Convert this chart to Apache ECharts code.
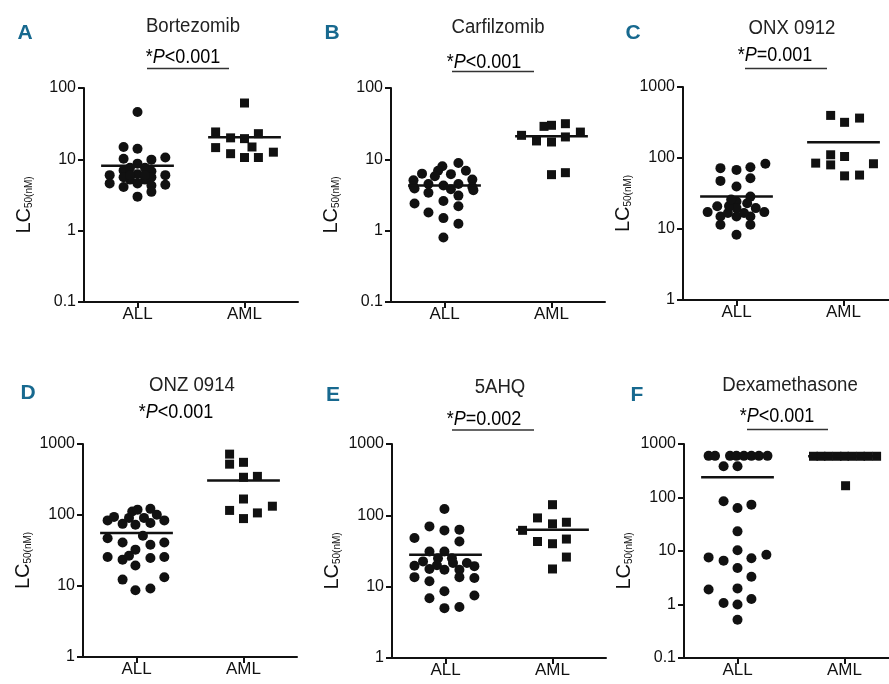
<!DOCTYPE html>
<html><head><meta charset="utf-8">
<script src="https://cdn.jsdelivr.net/npm/echarts@6/dist/echarts.min.js"></script>
<style>html,body{margin:0;padding:0;background:#fff}#c{width:889px;height:684px}</style>
</head><body><div id="c"></div>
<script>
// ---------------- DATA ----------------
const categories = ['ALL', 'AML'];
const panelLetters = ['A', 'B', 'C', 'D', 'E', 'F'];
const drugNames = ['Bortezomib', 'Carfilzomib', 'ONX 0912', 'ONZ 0914', '5AHQ', 'Dexamethasone'];
const pSigns = ['<', '<', '=', '<', '=', '<'];
const pNumbers = ['0.001', '0.001', '0.001', '0.001', '0.002', '0.001'];
const yMins = [0.1, 0.1, 1, 1, 1, 0.1];
const yMaxs = [100, 100, 1000, 1000, 1000, 1000];

// points: [swarm offset from group centre (axis units), LC50 value]
const bortezomibALL = [[0,46],[-0.13,14.9],[0,14.1],[-0.13,10.2],[0.13,9.9],[0.26,10.6],[0,8.7],[-0.13,7.0],[0.13,6.8],[-0.07,7.6],[0.07,7.6],[-0.26,6.0],[0.26,6.0],[-0.13,5.6],[0,6.2],[0.13,5.6],[-0.07,5.2],[0.07,5.2],[0,4.6],[-0.26,4.6],[0.26,4.4],[-0.13,4.1],[0.13,4.3],[0,3.0],[0.13,3.5],[-0.07,6.0],[0.07,6.0]];
const bortezomibAML = [[0,61.6],[-0.27,24.2],[0.13,22.9],[-0.13,20],[0,19.5],[-0.27,14.6],[0.07,14.9],[-0.13,12.0],[0.27,12.6],[0,10.6],[0.13,10.6]];
const carfilzomibALL = [[0.13,8.9],[-0.02,8.0],[-0.06,6.9],[-0.09,5.8],[-0.21,6.3],[0.06,6.2],[0.2,6.9],[-0.29,5.1],[0.26,5.2],[-0.29,4.2],[-0.15,4.5],[-0.01,4.3],[0.13,4.5],[0.26,4.1],[-0.15,3.4],[0.06,3.8],[0.13,3.1],[-0.28,3.9],[0.27,3.7],[-0.28,2.4],[-0.15,1.8],[-0.01,2.6],[0.13,2.2],[-0.01,1.5],[0.13,1.25],[-0.01,0.80]];
const carfilzomibAML = [[-0.28,21.7],[-0.14,18.1],[-0.07,29],[0,30],[0,17.5],[0.13,31.6],[0.13,20.6],[0.27,24.1],[0,6.1],[0.13,6.5]];
const onx0912ALL = [[-0.15,72],[0,68],[0.13,74],[0.27,83],[-0.15,47.6],[0,39.7],[0.13,52],[0,24.4],[0.13,28.6],[-0.27,17.3],[-0.18,20.9],[-0.15,15],[-0.15,11.5],[0,15],[0.13,15],[0.13,11.5],[0.26,17.3],[0,8.3],[-0.08,16.8],[0.07,16.8],[0,19.7],[0.18,19.7],[0.1,23],[-0.07,21],[-0.05,26]];
const onx0912AML = [[-0.12,398],[0.01,318],[0.15,365],[-0.26,84.7],[-0.12,111],[-0.12,80],[0.01,105],[0.28,83],[0.01,56],[0.15,57.5]];
const onz0914ALL = [[-0.27,84],[-0.21,94],[-0.13,75],[-0.07,91],[-0.04,112],[0.01,119],[0.07,91],[0.13,122],[0.19,101],[0.26,84],[-0.01,73],[0.13,77],[-0.27,47],[-0.13,41],[0.06,51],[0.13,38],[0.26,41],[-0.01,32.5],[-0.27,25.6],[-0.13,23.5],[-0.07,26.7],[0.13,24.8],[0.26,25.6],[-0.01,19.4],[-0.13,12.3],[0.26,13.3],[-0.01,8.7],[0.13,9.2]];
const onz0914AML = [[-0.13,720],[-0.13,520],[0,552],[0,340],[0.13,350],[0,168],[-0.13,116],[0,89],[0.13,107],[0.27,133]];
const ahq5ALL = [[-0.01,123],[-0.15,70],[-0.01,61.5],[0.13,63],[-0.29,48],[0.13,43],[-0.15,31.2],[-0.01,31.2],[-0.21,22.6],[-0.29,19.7],[-0.15,17.7],[-0.01,17.3],[0.07,21.5],[0.2,21.5],[0.27,19.4],[0.13,17.3],[0.27,13.2],[-0.29,13.6],[-0.15,11.9],[-0.01,8.6],[-0.15,6.9],[0.27,7.5],[-0.01,5.0],[0.13,5.2],[-0.07,25],[0.06,25],[-0.08,20],[0.13,13.6]];
const ahq5AML = [[0,141],[-0.14,92],[0,76],[0.13,80],[-0.28,61.6],[-0.14,43],[0,40],[0.13,46.5],[0.13,26],[0,17.7]];
const dexaALL = [[-0.27,600],[-0.21,600],[-0.07,600],[-0.01,600],[0.06,600],[0.13,600],[0.2,600],[0.28,600],[-0.13,383],[0,383],[-0.13,84.8],[0,63.7],[0.13,73.5],[0,23.3],[0,10.3],[-0.27,7.6],[-0.13,6.6],[0.13,7.3],[0.27,8.5],[0,4.8],[0.13,3.3],[-0.27,1.9],[0,2.0],[-0.13,1.07],[0,1.0],[0.13,1.27],[0,0.52]];
const dexaAML = [[-0.29,590],[-0.22,590],[-0.15,590],[-0.07,590],[0,590],[0.07,590],[0.15,590],[0.22,590],[0.3,590],[0.01,166]];
// summary (median/mean) line per group
const lineALL = [8.1, 4.3, 28.6, 55.8, 28.1, 238];
const lineAML = [20.4, 21, 167, 305, 63, 590];

const allGroups = [bortezomibALL, carfilzomibALL, onx0912ALL, onz0914ALL, ahq5ALL, dexaALL];
const amlGroups = [bortezomibAML, carfilzomibAML, onx0912AML, onz0914AML, ahq5AML, dexaAML];

// ---------------- LAYOUT ----------------
const grids = [
  {left: 84, top: 88, width: 214, height: 214},
  {left: 391, top: 88, width: 214, height: 214},
  {left: 683, top: 87, width: 214, height: 213},
  {left: 83, top: 444, width: 214, height: 213},
  {left: 392, top: 444, width: 214, height: 214},
  {left: 684, top: 444, width: 214, height: 214}
];
const letterPos = [[25,33],[332,33],[633,33],[28,393],[333,395],[637,395]];
const titlePos = [[193,26],[498,27],[792,28],[192,385],[500,387],[790,385]];
const pPos = [[183,57],[484,62],[775,55],[176,412],[484,419],[777,416]];
const ulPos = [[147,229,68.5],[452,534,71.5],[745,827,68.5],null,[452,534,430],[747,828,429.5]];

const FONT = '"Liberation Sans", Arial, sans-serif';
const INK = '#111';
const HALF = 0.34;

const option = {
  backgroundColor: '#fff',
  animation: false,
  grid: [], xAxis: [], yAxis: [], series: [], graphic: []
};

grids.forEach((g, i) => {
  option.grid.push(Object.assign({containLabel: false, outerBoundsMode: 'none'}, g));
  option.xAxis.push({
    type: 'value', gridIndex: i, min: 0.5, max: 2.5,
    splitLine: {show: false},
    axisLine: {onZero: false, lineStyle: {color: INK, width: 2}},
    axisTick: {customValues: [1, 2], length: 6, lineStyle: {color: INK, width: 2}},
    axisLabel: {customValues: [1, 2], formatter: v => categories[Math.round(v) - 1] || '',
      fontFamily: FONT, fontSize: 17, color: INK, margin: 4}
  });
  option.yAxis.push({
    type: 'log', logBase: 10, gridIndex: i, min: yMins[i], max: yMaxs[i],
    splitLine: {show: false}, minorTick: {show: false},
    axisLine: {show: true, lineStyle: {color: INK, width: 2}},
    axisTick: {show: true, length: 6, lineStyle: {color: INK, width: 2}},
    axisLabel: {fontFamily: FONT, fontSize: 16, color: INK, margin: 8,
      formatter: v => String(+v.toPrecision(3))},
    name: '{a|LC}{b|50(nM)}', nameLocation: 'middle', nameGap: 50,
    nameTextStyle: {padding: [0, 20, 0, 0], rich: {
      a: {fontFamily: FONT, fontSize: 20, color: INK},
      b: {fontFamily: FONT, fontSize: 10, color: INK, verticalAlign: 'bottom'}
    }}
  });
  const sym = {xAxisIndex: i, yAxisIndex: i, silent: true};
  option.series.push(Object.assign({type: 'scatter', symbol: 'circle', symbolSize: 10,
    itemStyle: {color: INK, opacity: 1}, data: allGroups[i].map(p => [1 + p[0], p[1]])}, sym));
  option.series.push(Object.assign({type: 'scatter', symbol: 'rect', symbolSize: 9,
    itemStyle: {color: INK, opacity: 1}, data: amlGroups[i].map(p => [2 + p[0], p[1]])}, sym));
  option.series.push(Object.assign({type: 'line', symbol: 'none', z: 5,
    lineStyle: {color: INK, width: 2.5}, data: [[1 - HALF, lineALL[i]], [1 + HALF, lineALL[i]]]}, sym));
  option.series.push(Object.assign({type: 'line', symbol: 'none', z: 5,
    lineStyle: {color: INK, width: 2.5}, data: [[2 - HALF, lineAML[i]], [2 + HALF, lineAML[i]]]}, sym));

  option.graphic.push({type: 'text', x: letterPos[i][0], y: letterPos[i][1], style: {
    text: panelLetters[i], fill: '#17698f', font: 'bold 21px ' + FONT, align: 'center', verticalAlign: 'middle'}});
  option.graphic.push({type: 'text', x: titlePos[i][0], y: titlePos[i][1], scaleX: 0.93, style: {
    text: drugNames[i], fill: '#222', font: '20px ' + FONT, align: 'center', verticalAlign: 'middle'}});
  option.graphic.push({type: 'text', x: pPos[i][0], y: pPos[i][1], scaleX: 0.9, style: {
    text: '{n|*}{i|P}{n|' + pSigns[i] + pNumbers[i] + '}', align: 'center', verticalAlign: 'middle',
    rich: {
      n: {fontFamily: FONT, fontSize: 20, color: '#222'},
      i: {fontFamily: FONT, fontSize: 20, fontStyle: 'italic', color: '#222'}
    }}});
  if (ulPos[i]) {
    option.graphic.push({type: 'line', shape: {x1: ulPos[i][0], y1: ulPos[i][2], x2: ulPos[i][1], y2: ulPos[i][2]},
      style: {stroke: '#333', lineWidth: 1.3}});
  }
});

const chart = echarts.init(document.getElementById('c'), null, {renderer: 'canvas'});
chart.setOption(option);
</script></body></html>
